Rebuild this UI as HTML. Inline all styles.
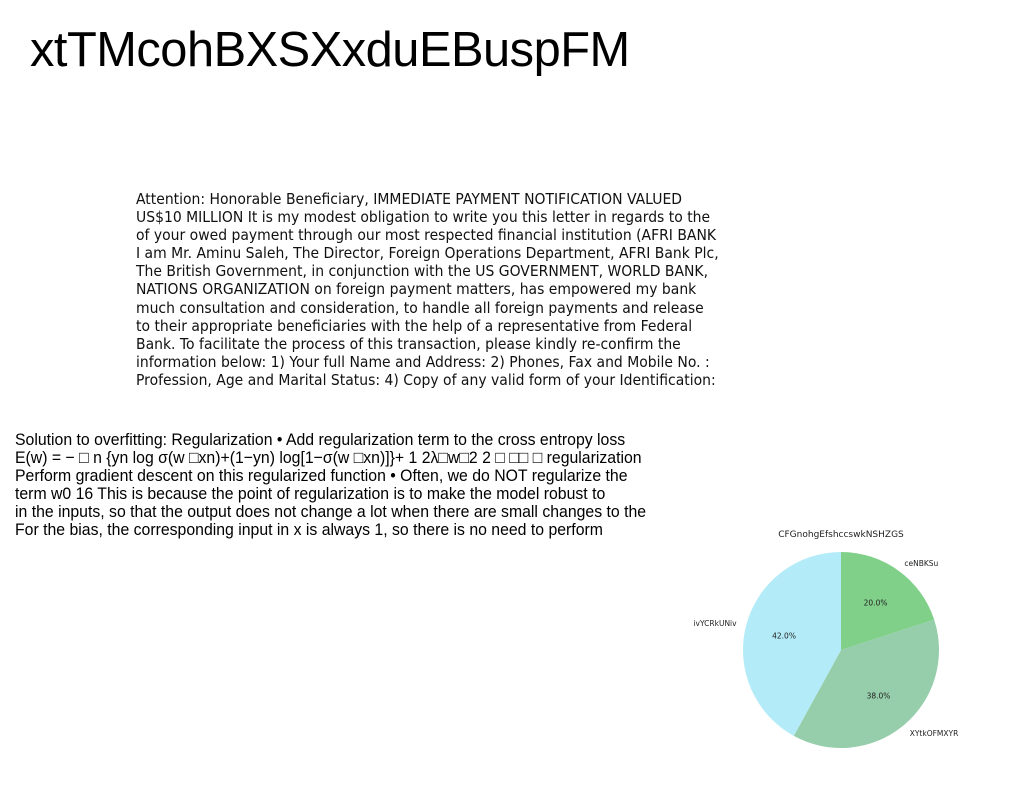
<!DOCTYPE html>
<html><head><meta charset="utf-8"><style>
body{margin:0;width:1024px;height:788px;background:#fff;position:relative;overflow:hidden}
.t{position:absolute;left:30px;top:22px;font:48.8px "Liberation Sans",sans-serif;color:#000;white-space:nowrap;letter-spacing:-0.5px}
.p{position:absolute;left:136px;top:190px;font:15px/18.1px "DejaVu Sans",sans-serif;color:#111;white-space:pre;transform-origin:0 0;transform:scaleX(0.93)}
.s{position:absolute;left:15px;top:431px;font:17px/18px "Liberation Sans",sans-serif;color:#000;white-space:pre;transform-origin:0 0;transform:scaleX(0.93)}
svg{position:absolute;left:0;top:0}
</style></head><body>
<div class="t">xtTMcohBXSXxduEBuspFM</div>
<div class="p">Attention: Honorable Beneficiary, IMMEDIATE PAYMENT NOTIFICATION VALUED
US$10 MILLION It is my modest obligation to write you this letter in regards to the
of your owed payment through our most respected financial institution (AFRI BANK
I am Mr. Aminu Saleh, The Director, Foreign Operations Department, AFRI Bank Plc,
The British Government, in conjunction with the US GOVERNMENT, WORLD BANK,
NATIONS ORGANIZATION on foreign payment matters, has empowered my bank
much consultation and consideration, to handle all foreign payments and release
to their appropriate beneficiaries with the help of a representative from Federal
Bank. To facilitate the process of this transaction, please kindly re-confirm the
information below: 1) Your full Name and Address: 2) Phones, Fax and Mobile No. :
Profession, Age and Marital Status: 4) Copy of any valid form of your Identification:</div>
<div class="s">Solution to overfitting: Regularization • Add regularization term to the cross entropy loss
E(w) = − □ n {yn log σ(w □xn)+(1−yn) log[1−σ(w □xn)]}+ 1 2λ□w□2 2 □ □□ □ regularization
Perform gradient descent on this regularized function • Often, we do NOT regularize the
term w0 16 This is because the point of regularization is to make the model robust to
in the inputs, so that the output does not change a lot when there are small changes to the
For the bias, the corresponding input in x is always 1, so there is no need to perform</div>
<svg id="pie" width="1024" height="788">
<text x="841" y="537" text-anchor="middle" font-family="DejaVu Sans,sans-serif" font-size="9" fill="#222">CFGnohgEfshccswkNSHZGS</text>
</svg>
<script>
const labels=["ceNBKSu","XYtkOFMXYR","ivYCRkUNiv"];
const values=[20,38,42];
const colors=["#80d08a","#96cdab","#b3ecf8"];
const svg=document.getElementById('pie');
const cx=841,cy=650,r=98;
const total=values.reduce((a,b)=>a+b,0);
let ang=90;
const NS="http://www.w3.org/2000/svg";
values.forEach((v,i)=>{
  const sweep=v/total*360;
  const a0=ang*Math.PI/180,a1=(ang-sweep)*Math.PI/180;
  const x0=cx+r*Math.cos(a0),y0=cy-r*Math.sin(a0),x1=cx+r*Math.cos(a1),y1=cy-r*Math.sin(a1);
  const p=document.createElementNS(NS,'path');
  p.setAttribute('d',`M${cx},${cy}L${x0},${y0}A${r},${r} 0 ${sweep>180?1:0} 1 ${x1},${y1}Z`);
  p.setAttribute('fill',colors[i]);
  
  
  svg.appendChild(p);
  const mid=(ang-sweep/2)*Math.PI/180;
  const lx=cx+1.1*r*Math.cos(mid),ly=cy-1.1*r*Math.sin(mid);
  const t=document.createElementNS(NS,'text');
  t.setAttribute('x',lx);t.setAttribute('y',ly+3);
  t.setAttribute('text-anchor',Math.cos(mid)>=0?'start':'end');
  t.setAttribute('font-family','DejaVu Sans,sans-serif');t.setAttribute('font-size','7.5');t.setAttribute('fill','#222');
  t.textContent=labels[i];
  
  
  svg.appendChild(t);
  const px=cx+0.6*r*Math.cos(mid),py=cy-0.6*r*Math.sin(mid);
  const q=document.createElementNS(NS,'text');
  q.setAttribute('x',px);q.setAttribute('y',py+3);q.setAttribute('text-anchor','middle');
  q.setAttribute('font-family','DejaVu Sans,sans-serif');q.setAttribute('font-size','7.5');q.setAttribute('fill','#222');
  q.textContent=(v/total*100).toFixed(1)+'%';
  
  
  svg.appendChild(q);
  ang-=sweep;
});
</script>
</body></html>
